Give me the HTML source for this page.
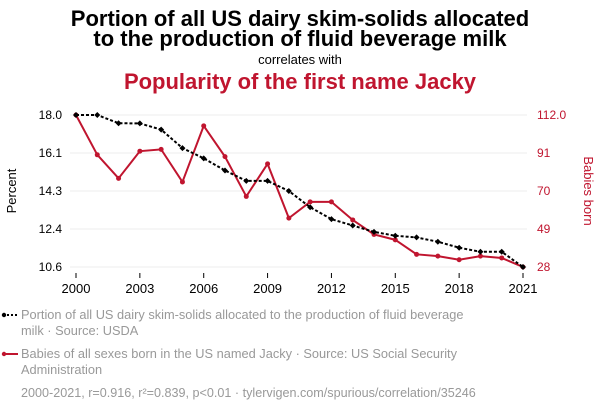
<!DOCTYPE html>
<html><head><meta charset="utf-8"><style>
body{margin:0;background:#fff;width:600px;height:414px;overflow:hidden;font-family:"Liberation Sans",sans-serif}
svg text{font-family:"Liberation Sans",sans-serif}
</style></head><body>
<svg id="c" width="600" height="414">
<text x="300" y="26" text-anchor="middle" font-size="22" font-weight="bold" fill="#000">Portion of all US dairy skim-solids allocated</text>
<text x="300" y="46" text-anchor="middle" font-size="22" font-weight="bold" fill="#000">to the production of fluid beverage milk</text>
<text x="300" y="64" text-anchor="middle" font-size="13" fill="#000">correlates with</text>
<text x="300" y="89" text-anchor="middle" font-size="22" font-weight="bold" fill="#c0152f">Popularity of the first name Jacky</text>
<g id="grid"></g><g id="axes"></g><g id="lines"></g>
<text transform="translate(16,191) rotate(-90)" text-anchor="middle" font-size="13" fill="#000">Percent</text>
<text transform="translate(584,191) rotate(90)" text-anchor="middle" font-size="13" fill="#c0152f">Babies born</text>
<g>
<line x1="3" y1="315" x2="19" y2="315" stroke="#000" stroke-width="2" stroke-dasharray="2,2"/><circle cx="4" cy="315" r="2.2" fill="#000"/>
<text x="21" y="319" font-size="12.8" fill="#999">Portion of all US dairy skim-solids allocated to the production of fluid beverage</text>
<text x="21" y="335" font-size="12.8" fill="#999">milk · Source: USDA</text></g>
<g>
<line x1="3" y1="354" x2="18" y2="354" stroke="#c0152f" stroke-width="2"/><circle cx="4" cy="354" r="2.2" fill="#c0152f"/>
<text x="21" y="358" font-size="12.8" fill="#999">Babies of all sexes born in the US named Jacky · Source: US Social Security</text>
<text x="21" y="374" font-size="12.8" fill="#999">Administration</text></g>
<text x="21" y="397" font-size="12.6" fill="#999">2000-2021, r=0.916, r²=0.839, p&lt;0.01 · tylervigen.com/spurious/correlation/35246</text>
</svg>
<script>
const years=[2000,2001,2002,2003,2004,2005,2006,2007,2008,2009,2010,2011,2012,2013,2014,2015,2016,2017,2018,2019,2020,2021];
const milk=[18.0,18.0,17.6,17.59,17.29,16.39,15.89,15.30,14.79,14.79,14.30,13.51,12.93,12.62,12.31,12.12,12.04,11.83,11.54,11.34,11.34,10.6];
const jacky=[112,90,77,92,93,75,106,89,67,85,55,64,64,54,46,43,35,34,32,34,33,28];
const leftTicks=["18.0","16.1","14.3","12.4","10.6"];
const rightTicks=["112.0","91","70","49","28"];
const xTicks=[2000,2003,2006,2009,2012,2015,2018,2021];
const NS="http://www.w3.org/2000/svg";
const x=v=>76+(v-2000)*(523-76)/21;
const yl=v=>115+(18-v)*152/7.4;
const yr=v=>115+(112-v)*152/84;
function mk(t,a,p){const e=document.createElementNS(NS,t);for(const k in a)e.setAttribute(k,a[k]);p.appendChild(e);return e;}
const grid=document.getElementById('grid'),axes=document.getElementById('axes'),lines=document.getElementById('lines');
leftTicks.forEach((t,i)=>{const y=115+i*38;
const g=mk('line',{x1:70,x2:527,y1:y,y2:y,stroke:'#eee'},grid);


const l=mk('text',{x:62,y:y+4,'text-anchor':'end','font-size':12,fill:'#000'},axes);l.textContent=t;


const r=mk('text',{x:537,y:y+4,'font-size':12,fill:'#c0152f'},axes);r.textContent=rightTicks[i];

});
xTicks.forEach(v=>{mk('line',{x1:x(v),x2:x(v),y1:273,y2:278,stroke:'#000'},axes);
const t=mk('text',{x:x(v),y:293,'text-anchor':'middle','font-size':13,fill:'#000'},axes);t.textContent=v;

});
const rl=mk('polyline',{points:years.map((yy,i)=>x(yy)+','+yr(jacky[i])).join(' '),fill:'none',stroke:'#c0152f','stroke-width':2},lines);


years.forEach((yy,i)=>{const c=mk('circle',{cx:x(yy),cy:yr(jacky[i]),r:2.5,fill:'#c0152f'},lines);

});
const bl=mk('polyline',{points:years.map((yy,i)=>x(yy)+','+yl(milk[i])).join(' '),fill:'none',stroke:'#000','stroke-width':2,'stroke-dasharray':'3,2'},lines);


years.forEach((yy,i)=>{const cx=x(yy),cy=yl(milk[i]);const d=mk('polygon',{points:`${cx},${cy-3} ${cx+3},${cy} ${cx},${cy+3} ${cx-3},${cy}`,fill:'#000'},lines);

});
</script>
</body></html>
